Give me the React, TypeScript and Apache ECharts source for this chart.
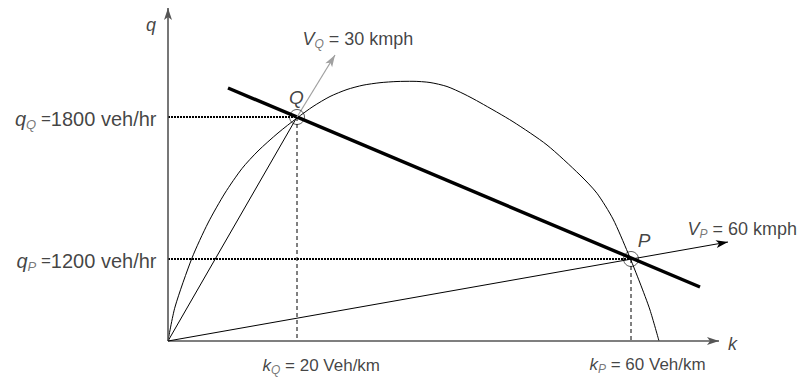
import React, { useEffect, useRef } from "react";
import * as echarts from "echarts";

// Schematic units (diagram is not to scale): k along x, q along y
const curvePoints: number[][] = [
  [0, 0], [7, 34], [24, 83], [40, 118], [57, 148], [74, 172.5], [90, 190], [110, 208],
  [129, 223], [145, 234.5], [162, 244.5], [179, 251.5], [195, 255.8], [212, 258.3],
  [229, 259.5], [245, 259.7], [262, 258.5], [279, 254.5], [296, 247], [312, 238.5],
  [345, 219.3], [379, 196], [412, 166], [429, 147.7], [445, 122], [460, 88], [472, 58],
  [482, 31], [491, 0],
];
const pointQ: number[] = [129, 224];
const pointP: number[] = [463, 82];
const origin: number[] = [0, 0];
const tangentLine: number[][] = [[60, 253], [532, 54]];
const vQArrowEnd: number[] = [167, 286];
const vPArrowEnd: number[] = [560, 99];
const kAxisEnd: number[] = [551, 0];
const qAxisEnd: number[] = [0, 333];

const kQText = "20 Veh/km";
const kPText = "60 Veh/km";
const qQText = "1800 veh/hr";
const qPText = "1200 veh/hr";
const vQText = "30 kmph";
const vPText = "60 kmph";

const FONT = "'Liberation Sans', Arial, sans-serif";

function seg(data: number[][], lineStyle: any) {
  return {
    type: "line",
    data,
    symbol: "none",
    silent: true,
    clip: false,
    lineStyle: { color: "#000", width: 1, ...lineStyle },
    z: 2,
  };
}

function arrow(from: number[], to: number[], color: string, width: number) {
  return {
    type: "line",
    data: [],
    silent: true,
    clip: false,
    markLine: {
      silent: true,
      symbol: ["none", "arrow"],
      symbolSize: [6, 12],
      label: { show: false },
      emphasis: { disabled: true },
      lineStyle: { color, width, type: "solid" },
      data: [[{ coord: from }, { coord: to }]],
    },
  };
}

function mkRich(main: number, sub: number, eq: number) {
  return {
    i: { fontFamily: FONT, fontStyle: "italic", fontSize: main, lineHeight: main + 4, color: "#111" },
    s: { fontFamily: FONT, fontStyle: "italic", fontSize: sub, lineHeight: sub, verticalAlign: "bottom", color: "#555" },
    n: { fontFamily: FONT, fontSize: main, lineHeight: main + 4, color: "#111" },
    e: { fontFamily: FONT, fontSize: eq, lineHeight: main + 4, color: "#111" },
  };
}

function ann(pos: number[], formatter: string, dx: number, dy: number, align: string, rich: any) {
  return {
    value: pos,
    label: {
      show: true,
      formatter,
      position: [dx, dy],
      align,
      verticalAlign: "middle",
      rich,
    },
  };
}

export default function App() {
  const ref = useRef<HTMLDivElement>(null);
  useEffect(() => {
    if (!ref.current) return;
    const chart = echarts.init(ref.current, undefined, { renderer: "svg" });
    const r17 = mkRich(17, 12, 17);
    const r18 = mkRich(18, 12, 18);
    const r19 = mkRich(19, 12, 19);
    const rq = mkRich(20, 13, 17);
    const option: any = {
      animation: false,
      grid: { left: 168, right: 0, top: 8, bottom: 37 },
      xAxis: { type: "value", min: 0, max: 634, show: false },
      yAxis: { type: "value", min: 0, max: 333, show: false },
      series: [
        // axes
        arrow(origin, kAxisEnd, "#555", 1.6),
        arrow(origin, qAxisEnd, "#555", 1.6),
        // curve
        {
          type: "line",
          data: curvePoints,
          smooth: 0.25,
          symbol: "none",
          silent: true,
          clip: false,
          lineStyle: { color: "#000", width: 1 },
        },
        // guides
        seg([[0, pointQ[1]], pointQ], { type: [2, 1], width: 1.8 }),
        seg([[0, pointP[1]], pointP], { type: [2, 1], width: 1.8 }),
        seg([pointQ, [pointQ[0], 0]], { type: [4, 3], width: 1 }),
        seg([pointP, [pointP[0], 0]], { type: [4, 3], width: 1 }),
        // rays
        seg([origin, pointQ], { width: 1 }),
        arrow(origin, vPArrowEnd, "#000", 1),
        arrow(pointQ, vQArrowEnd, "#a0a0a0", 1.2),
        // thick line
        seg(tangentLine, { width: 3.4 }),
        // circles
        {
          type: "scatter",
          data: [pointQ, pointP],
          symbol: "circle",
          symbolSize: 15,
          silent: true,
          itemStyle: { color: "rgba(0,0,0,0)", borderColor: "#000", borderWidth: 0.8 },
          z: 5,
        },
        // annotations
        {
          type: "scatter",
          symbolSize: 1,
          silent: true,
          itemStyle: { color: "rgba(0,0,0,0)" },
          z: 6,
          data: [
            ann([pointQ[0], 0], `{i|k}{s|Q}{n| = ${kQText}}`, -34, 25, "left", r17),
            ann([pointP[0], 0], `{i|k}{s|P}{n| = ${kPText}}`, -41, 24, "left", r17),
            ann([0, pointQ[1]], `{i|q}{s|Q}{e| =}{n|${qQText}}`, -11, 2, "right", rq),
            ann([0, pointP[1]], `{i|q}{s|P}{e| =}{n|${qPText}}`, -11, 2, "right", rq),
            ann(vQArrowEnd, `{i|V}{s|Q}{n| = ${vQText}}`, -32, -16, "left", r18),
            ann(vPArrowEnd, `{i|V}{s|P}{n| = ${vPText}}`, -40, -13, "left", r18),
            ann(pointQ, `{i|Q}`, 0, -19.5, "center", r19),
            ann(pointP, `{i|P}`, 13.5, -18.5, "center", r19),
            ann(qAxisEnd, `{i|q}`, -16.5, 17, "center", r18),
            ann(kAxisEnd, `{i|k}`, 14, 3, "center", r18),
          ],
        },
      ],
    };
    chart.setOption(option);
    return () => chart.dispose();
  }, []);
  return <div ref={ref} style={{ width: 802, height: 378, position: "absolute", left: 0, top: 0 }} />;
}
